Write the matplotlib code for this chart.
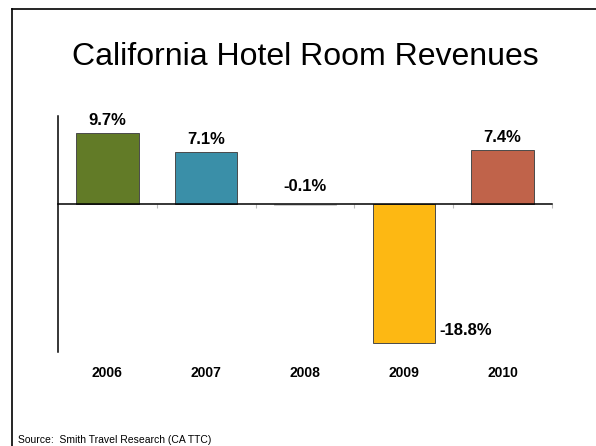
import matplotlib
matplotlib.use('Agg')
import matplotlib.pyplot as plt
from matplotlib.lines import Line2D
from matplotlib.transforms import blended_transform_factory

plt.rcParams['font.family'] = ['Liberation Sans', 'DejaVu Sans']

# chart data
years = ['2006', '2007', '2008', '2009', '2010']
growth = [9.7, 7.1, -0.1, -18.8, 7.4]
bar_colors = ['#627B27', '#3A8FA8', '#D3D3D3', '#FDB813', '#C0634A']
title = 'California Hotel Room Revenues'
source = 'Source:  Smith Travel Research (CA TTC)'

fig = plt.figure(figsize=(5.96, 4.46), dpi=100)
ax = fig.add_axes([0.0973, 0.2108, 0.8289, 0.5291])

x = list(range(len(years)))
edges = ['#4a4a4a' if v < -1 or v > 1 else '#cccccc' for v in growth]
ax.bar(x, growth, width=0.63, color=bar_colors, edgecolor=edges, linewidth=0.7, zorder=2)

ax.set_xlim(-0.5, len(years) - 0.5)
ax.set_ylim(-20, 12)

# spines: y axis on left, x axis through zero
ax.spines['top'].set_visible(False)
ax.spines['right'].set_visible(False)
ax.spines['bottom'].set_position(('data', 0))
ax.spines['bottom'].set_linewidth(1.1)
ax.spines['left'].set_linewidth(1.1)
ax.spines['bottom'].set_zorder(3)
ax.set_yticks([])
ax.set_xticks([i + 0.5 for i in x])
ax.set_xticklabels([])
ax.tick_params(axis='x', direction='out', length=3, color='#bbbbbb', width=0.8)

# value labels
for xi, v in zip(x, growth):
    label = f'{v:.1f}%'
    if v >= 0:
        ax.annotate(label, (xi, v), xytext=(0, 9), textcoords='offset points',
                    ha='center', va='center', fontsize=12, fontweight='bold')
    elif v > -2:
        ax.annotate(label, (xi, 0), xytext=(0, 13), textcoords='offset points',
                    ha='center', va='center', fontsize=12, fontweight='bold')
    else:
        ax.annotate(label, (xi + 0.315, v), xytext=(3, 9), textcoords='offset points',
                    ha='left', va='center', fontsize=12, fontweight='bold')

# category labels below the plot
trans = blended_transform_factory(ax.transData, ax.transAxes)
for xi, yr in zip(x, years):
    ax.text(xi, -0.089, yr, transform=trans, ha='center', va='center',
            fontsize=10, fontweight='bold')

fig.text(0.512, 0.872, title, ha='center', va='center', fontsize=23)
fig.text(0.030, 0.0135, source, ha='left', va='center', fontsize=7.5)

# slide frame (top and left edges)
fig.add_artist(Line2D([0.0201, 1.0], [0.9787, 0.9787], color='black', lw=1.2))
fig.add_artist(Line2D([0.0201, 0.0201], [0.0, 0.9787], color='black', lw=1.2))

fig.savefig('out.png', dpi=100)
